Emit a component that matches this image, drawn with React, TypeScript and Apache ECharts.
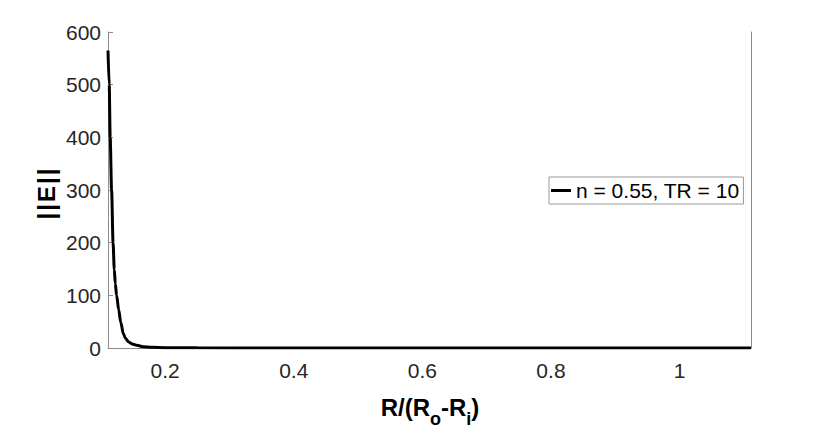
import React, { useEffect, useRef } from "react";
import * as echarts from "echarts";

const xValues = [0.1111, 0.113, 0.1145, 0.1167, 0.119, 0.1209, 0.1225, 0.1245, 0.1278, 0.1309, 0.135, 0.1385, 0.1427, 0.149, 0.1558, 0.1656, 0.18, 0.2, 0.25, 0.35, 0.5, 0.8, 1.1111];
const yValues = [565, 500, 400, 300, 200, 149, 122, 100, 72, 49, 27, 18, 12, 7.5, 5, 2.6, 1.3, 0.7, 0.3, 0.1, 0.04, 0.01, 0.005];
const xTicks = [0.2, 0.4, 0.6, 0.8, 1];
const seriesName = "n = 0.55, TR = 10";
const X_MIN = 1 / 9;
const X_MAX = 10 / 9;

export default function App() {
  const ref = useRef<HTMLDivElement>(null);
  useEffect(() => {
    if (!ref.current) return;
    const chart = echarts.init(ref.current, null, { renderer: "svg" });
    const font = "'Liberation Sans', Arial, sans-serif";
    const axisColor = "#8c8c8c";
    const labelColor = "#262626";
    const ch = { fontFamily: font, fontSize: 24, fontWeight: "bold", padding: [0, 1, 0, 1], fill: "#000000" };
    const mainStyle = { fontFamily: font, fontSize: 24, fontWeight: "bold", fill: "#000000", align: "left", verticalAlign: "middle" };
    const subStyle = { fontFamily: font, fontSize: 18, fontWeight: "bold", fill: "#000000", align: "left", verticalAlign: "middle" };
    const mainY = 407.5;
    const subY = 418.5;
    chart.setOption({
      animation: false,
      backgroundColor: "#ffffff",
      grid: { left: 108, right: 80, top: 32, bottom: 80, containLabel: false },
      legend: {
        show: true,
        left: 549,
        top: 177,
        orient: "vertical",
        padding: [2, 4, 2, 2],
        borderColor: "#999999",
        borderWidth: 1,
        backgroundColor: "#ffffff",
        itemWidth: 20,
        itemHeight: 3,
        icon: "rect",
        textStyle: { fontFamily: font, fontSize: 21, color: "#000000", lineHeight: 23 },
        data: [seriesName],
      },
      xAxis: {
        type: "value",
        min: X_MIN,
        max: X_MAX,
        axisLine: { show: true, onZero: false, lineStyle: { color: axisColor, width: 1 } },
        axisTick: { show: false },
        splitLine: { show: false },
        axisLabel: {
          customValues: xTicks,
          margin: 12,
          fontFamily: font,
          fontSize: 21,
          color: labelColor,
          formatter: (v: number) => String(Math.round(v * 10) / 10),
        },
      },
      yAxis: [
        {
          type: "value",
          min: 0,
          max: 600,
          interval: 100,
          axisLine: { show: true, lineStyle: { color: axisColor, width: 1 } },
          axisTick: { show: true, inside: true, length: 5, lineStyle: { color: axisColor, width: 1 } },
          splitLine: { show: false },
          axisLabel: { margin: 7, fontFamily: font, fontSize: 21, color: labelColor },
        },
        {
          type: "value",
          position: "right",
          min: 0,
          max: 600,
          interval: 100,
          axisLine: { show: true, lineStyle: { color: axisColor, width: 1 } },
          axisTick: { show: false },
          splitLine: { show: false },
          axisLabel: { show: false },
        },
      ],
      graphic: [
        {
          type: "text",
          x: 46,
          y: 194,
          rotation: Math.PI / 2,
          style: {
            text: "{c||}{c||}{c|E}{c||}{c||}",
            fontFamily: font,
            fontSize: 24,
            fontWeight: "bold",
            fill: "#000000",
            align: "center",
            verticalAlign: "middle",
            rich: { c: ch },
          },
        },
        {
          type: "group",
          children: [
            { type: "text", x: 380.7, y: mainY, style: { ...mainStyle, text: "R/(R" } },
            { type: "text", x: 430.0, y: subY, style: { ...subStyle, text: "o" } },
            { type: "text", x: 441.0, y: mainY, style: { ...mainStyle, text: "-R" } },
            { type: "text", x: 466.3, y: subY, style: { ...subStyle, text: "i" } },
            { type: "text", x: 471.3, y: mainY, style: { ...mainStyle, text: ")" } },
          ],
        },
      ],
      series: [
        {
          name: seriesName,
          type: "line",
          data: xValues.map((x, i) => [x, yValues[i]]),
          showSymbol: false,
          smooth: 0.3,
          smoothMonotone: "x",
          lineStyle: { color: "#000000", width: 3 },
          itemStyle: { color: "#000000" },
          clip: true,
        },
      ],
    });
    return () => chart.dispose();
  }, []);
  return <div ref={ref} style={{ width: 831, height: 428, position: "absolute", left: 0, top: 0 }} />;
}
